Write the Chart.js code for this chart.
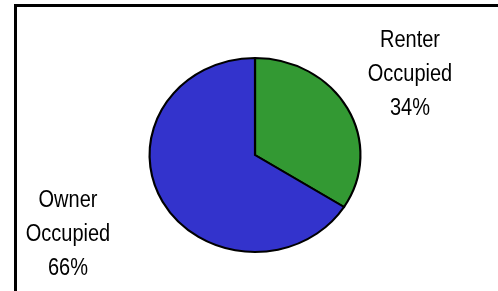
<!DOCTYPE html>
<html>
<head>
<meta charset="utf-8">
<script src="https://cdn.jsdelivr.net/npm/chart.js@4.4.1/dist/chart.umd.min.js"></script>
<style>
  html, body { margin: 0; padding: 0; background: #fff; overflow: hidden; }
  #wrap { position: relative; width: 498px; height: 291px; }
  #frame { position: absolute; left: 14px; top: 4px; width: 600px; height: 400px;
           border-left: 3px solid #000; border-top: 3px solid #000; box-sizing: border-box; }
  canvas { position: absolute; left: 0; top: 0; }
</style>
</head>
<body>
<div id="wrap">
  <div id="frame"></div>
  <canvas id="c" width="498" height="291"></canvas>
</div>
<script>
const categories = ["Renter Occupied", "Owner Occupied"];
const labelLines = [["Renter", "Occupied"], ["Owner", "Occupied"]];
const shares = [34, 66];
const sliceColors = ["#339933", "#3333CC"];

const stretchX = 1.087;
const textStretchY = 1.15;

const ellipsePlugin = {
  id: 'ellipse',
  beforeDatasetsDraw(chart) {
    const arc = chart.getDatasetMeta(0).data[0];
    const ctx = chart.ctx;
    ctx.save();
    ctx.translate(arc.x, 0);
    ctx.scale(stretchX, 1);
    ctx.translate(-arc.x, 0);
  },
  afterDatasetsDraw(chart) {
    chart.ctx.restore();
  }
};

const labelPos = [ {x: 410, y: 41, lh: 34}, {x: 68, y: 201, lh: 34} ];

const labelPlugin = {
  id: 'sliceLabels',
  afterDraw(chart) {
    const ctx = chart.ctx;
    shares.forEach((v, i) => {
      const lines = labelLines[i].concat([v + '%']);
      const p = labelPos[i];
      lines.forEach((t, j) => {
        ctx.save();
        ctx.font = '20px "Liberation Sans", Arial, sans-serif';
        ctx.fillStyle = '#000';
        ctx.textAlign = 'center';
        ctx.textBaseline = 'middle';
        ctx.translate(p.x, p.y + j * p.lh);
        ctx.scale(1, textStretchY);
        ctx.fillText(t, 0, 0);
        ctx.restore();
      });
    });
  }
};

new Chart(document.getElementById('c'), {
  type: 'pie',
  data: {
    labels: categories,
    datasets: [{
      data: shares,
      backgroundColor: sliceColors,
      borderColor: '#000',
      borderWidth: 2,
      borderJoinStyle: 'miter',
      radius: 97
    }]
  },
  options: {
    responsive: false,
    animation: false,
    layout: { padding: { left: 52, right: 40, top: 50, bottom: 31 } },
    plugins: { legend: { display: false }, tooltip: { enabled: false }, title: { display: false } }
  },
  plugins: [ellipsePlugin, labelPlugin]
});
</script>
</body>
</html>
